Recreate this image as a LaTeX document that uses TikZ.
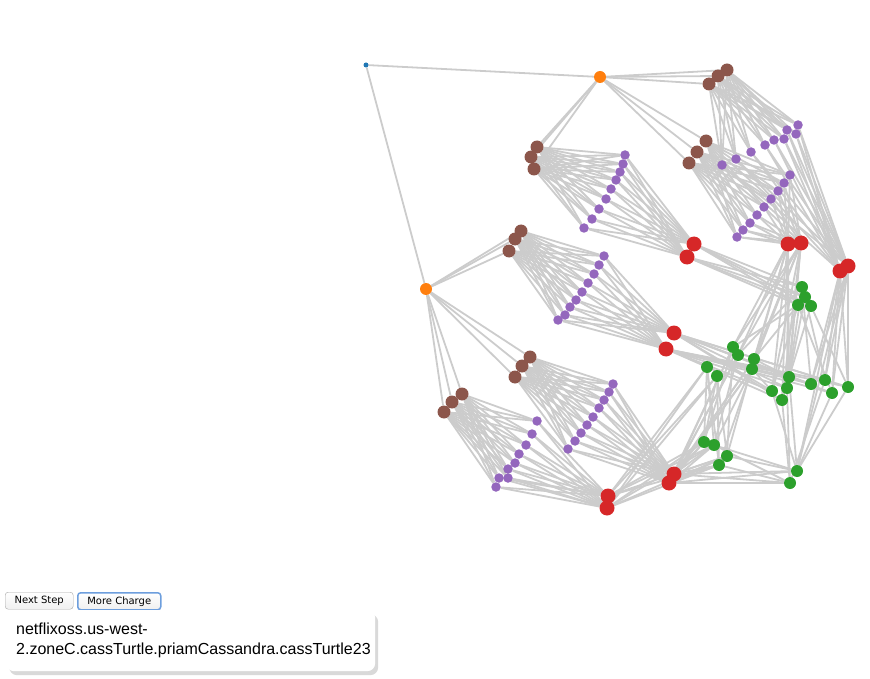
\documentclass[tikz,border=0pt]{standalone}
\usepackage{fontspec}
\setmainfont{Liberation Sans}
\newfontfamily\btnfont{DejaVu Sans}
\usetikzlibrary{backgrounds,shadows}

\definecolor{hubblue}{HTML}{1F77B4}
\definecolor{zoneorange}{HTML}{FF7F0E}
\definecolor{asgbrown}{HTML}{8C564B}
\definecolor{svcpurple}{HTML}{9467BD}
\definecolor{dbred}{HTML}{D62728}
\definecolor{leafgreen}{HTML}{2CA02C}
\definecolor{wiregray}{HTML}{CCCCCC}
\definecolor{focusblue}{HTML}{6D9EDD}

\begin{document}
\begin{tikzpicture}[
  x=1pt, y=-1pt,
  dot/.style={circle, inner sep=0pt, minimum size=#1},
  hub/.style={dot=5pt, fill=hubblue},
  zonedot/.style={dot=12pt, fill=zoneorange},
  asgdot/.style={dot=13pt, fill=asgbrown},
  svcdot/.style={dot=9.5pt, fill=svcpurple},
  dbdot/.style={dot=15pt, fill=dbred},
  leafdot/.style={dot=12pt, fill=leafgreen},
  wire/.style={draw=wiregray, line width=1.8pt},
  button/.style={draw=gray!70, rounded corners=3pt, top color=white, bottom color=gray!12,
    anchor=north west, minimum height=17pt, inner sep=0pt, font=\btnfont\fontsize{10}{12}\selectfont},
  tipbox/.style={anchor=north west, fill=white, rounded corners=8pt, minimum width=369pt, minimum height=61pt,
    text width=349pt, inner xsep=10pt, align=left, font=\fontsize{16}{20}\selectfont,
    drop shadow={shadow xshift=3pt, shadow yshift=-4pt, opacity=0.3}}
]
\useasboundingbox (0,0) rectangle (870,679);

% region and zones
\node[hub] (root) at (366,65) {};
\node[zonedot] (za) at (600,77) {};
\node[zonedot] (zb) at (426,289) {};

% groups
\foreach \x/\y [count=\i] in {709/84, 718/76, 727/70} \node[asgdot] (b1-\i) at (\x,\y) {};
\foreach \x/\y [count=\i] in {689/163, 697/152, 706/141} \node[asgdot] (b2-\i) at (\x,\y) {};
\foreach \x/\y [count=\i] in {534/169, 531/157, 537/147} \node[asgdot] (b3-\i) at (\x,\y) {};
\foreach \x/\y [count=\i] in {509/251, 515/239, 521/231} \node[asgdot] (b4-\i) at (\x,\y) {};
\foreach \x/\y [count=\i] in {515/377, 522/366, 530/357} \node[asgdot] (b5-\i) at (\x,\y) {};
\foreach \x/\y [count=\i] in {444/412, 452/402, 462/394} \node[asgdot] (b6-\i) at (\x,\y) {};

% services
\foreach \x/\y [count=\i] in {722/165, 736/159, 751/152, 765/145, 774/140, 784/139, 796/134, 787/130, 798/125}
  \node[svcdot] (p1-\i) at (\x,\y) {};
\foreach \x/\y [count=\i] in {737/237, 743/230, 750/223, 757/215, 764/207, 771/199, 778/191, 784/183, 790/175}
  \node[svcdot] (p2-\i) at (\x,\y) {};
\foreach \x/\y [count=\i] in {584/228, 592/219, 599/209, 606/199, 611/189, 616/180, 620/172, 623/164, 625/155}
  \node[svcdot] (p3-\i) at (\x,\y) {};
\foreach \x/\y [count=\i] in {558/320, 565/315, 570/307, 576/300, 582/292, 588/283, 594/274, 599/265, 604/256}
  \node[svcdot] (p4-\i) at (\x,\y) {};
\foreach \x/\y [count=\i] in {568/449, 575/441, 581/433, 587/425, 593/417, 599/408, 604/400, 609/392, 613/384}
  \node[svcdot] (p5-\i) at (\x,\y) {};
\foreach \x/\y [count=\i] in {496/487, 499/478, 508/478, 508/469, 515/463, 519/454, 526/445, 532/434, 537/421}
  \node[svcdot] (p6-\i) at (\x,\y) {};

% stores
\foreach \x/\y [count=\i] in {840/271, 848/266} \node[dbdot] (r1-\i) at (\x,\y) {};
\foreach \x/\y [count=\i] in {788/244, 801/243} \node[dbdot] (r2-\i) at (\x,\y) {};
\foreach \x/\y [count=\i] in {694/244, 687/257} \node[dbdot] (r3-\i) at (\x,\y) {};
\foreach \x/\y [count=\i] in {674/333, 666/349} \node[dbdot] (r4-\i) at (\x,\y) {};
\foreach \x/\y [count=\i] in {674/474, 669/483} \node[dbdot] (r5-\i) at (\x,\y) {};
\foreach \x/\y [count=\i] in {608/496, 607/508} \node[dbdot] (r6-\i) at (\x,\y) {};

% leaves
\foreach \x/\y [count=\i] in {802/287, 805/297, 798/305, 811/306, 733/347, 738/355, 754/359, 752/369,
    707/367, 717/376, 789/377, 787/388, 772/391, 782/400, 811/384, 825/380, 832/393, 848/387,
    704/442, 714/445, 727/456, 719/465, 797/471, 790/483}
  \node[leafdot] (g\i) at (\x,\y) {};

\begin{scope}[on background layer]
\draw[wire] (root) -- (za);
\draw[wire] (root) -- (zb);
\foreach \i in {1,2,3} {
  \draw[wire] (za) -- (b1-\i);
  \draw[wire] (za) -- (b2-\i);
  \draw[wire] (za) -- (b3-\i);
  \draw[wire] (zb) -- (b4-\i);
  \draw[wire] (zb) -- (b5-\i);
  \draw[wire] (zb) -- (b6-\i);
}
\foreach \k in {1,...,6} {
  \foreach \i in {1,2,3} \foreach \m in {1,...,9} \draw[wire] (b\k-\i) -- (p\k-\m);
  \foreach \m in {1,...,9} \foreach \j in {1,2} \draw[wire] (p\k-\m) -- (r\k-\j);
}
% stores to leaves
\foreach \j in {1,2} {
  \foreach \n in {15,16,17,18,23} \draw[wire] (r1-\j) -- (g\n);
  \foreach \n in {5,6,7,8,11,12,13,14} \draw[wire] (r2-\j) -- (g\n);
  \foreach \n in {1,2,3,4} \draw[wire] (r3-\j) -- (g\n);
  \foreach \n in {11,12,13,14,15,16,17,18} \draw[wire] (r4-\j) -- (g\n);
  \foreach \n in {5,6,7,8,19,20,21,22,23,24} \draw[wire] (r5-\j) -- (g\n);
  \foreach \n in {9,10,19,20,21,22} \draw[wire] (r6-\j) -- (g\n);
}
% leaves to leaves
\foreach \a/\b in {9/19, 9/20, 10/21, 10/22, 9/22, 10/19, 5/19, 6/20, 7/21, 8/22, 5/21, 8/20,
    11/23, 12/24, 13/23, 14/24, 18/23, 17/23, 16/24, 19/23, 20/24, 21/23, 22/24,
    1/11, 2/12, 3/13, 4/14, 1/15, 2/16, 3/17, 4/18, 3/5, 3/7, 1/6, 7/11, 8/13}
  \draw[wire] (g\a) -- (g\b);
\end{scope}

% controls
\node[button, minimum width=68pt] (next) at (5,592) {Next Step};
\node[button, minimum width=83pt, draw=focusblue, line width=1.5pt] (charge) at (77,592) {More Charge};
\node[tipbox] (tip) at (6,610) {netflixoss.us-west-\\2.zoneC.cassTurtle.priamCassandra.cassTurtle23};
\end{tikzpicture}
\end{document}
